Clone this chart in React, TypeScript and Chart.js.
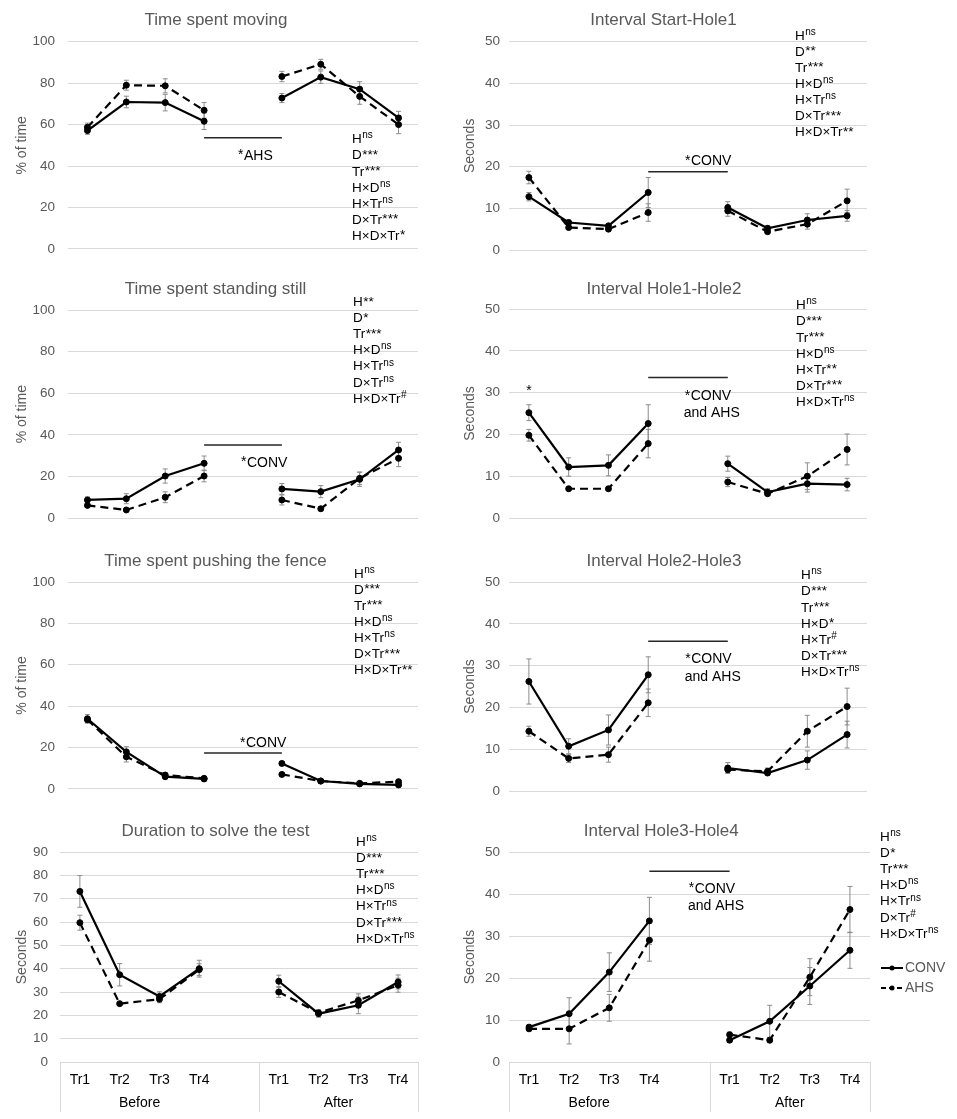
import React, { useEffect, useRef } from "react";
import { Chart, registerables } from "chart.js";

Chart.register(...registerables);

// ---------- DATA ----------
const categories = ["Tr1", "Tr2", "Tr3", "Tr4", "", "Tr1", "Tr2", "Tr3", "Tr4"];
const groupLabels = ["Before", "After"];
const seriesNames = ["CONV", "AHS"];

// Time spent moving (% of time)
const movingConv = [57.1, 70.9, 70.6, 61.6, null, 72.8, 82.9, 77.1, 63.2];
const movingConvErr = [1.8, 2.8, 4.0, 4.0, null, 2.2, 3.0, 3.6, 3.2];
const movingAhs = [58.7, 79.0, 78.7, 66.9, null, 83.2, 89.1, 73.6, 60.0];
const movingAhsErr = [2.0, 2.4, 3.4, 3.8, null, 2.5, 2.4, 3.8, 4.4];
const movingStats = [["H", "ns"], ["D", "***"], ["Tr", "***"], ["H×D", "ns"], ["H×Tr", "ns"], ["D×Tr", "***"], ["H×D×Tr", "*"]];
const movingSigValue = 53.6;
const movingSigText = [["*", "AHS"]];

// Interval Start-Hole1 (seconds)
const startConv = [12.8, 6.6, 5.8, 13.8, null, 10.2, 5.2, 7.2, 8.2];
const startConvErr = [1.0, 0.6, 0.5, 3.6, null, 1.4, 0.6, 1.5, 1.3];
const startAhs = [17.4, 5.4, 5.0, 9.0, null, 9.4, 4.4, 6.2, 11.8];
const startAhsErr = [1.5, 0.5, 0.5, 2.1, null, 1.3, 0.5, 1.2, 2.8];
const startStats = [["H", "ns"], ["D", "**"], ["Tr", "***"], ["H×D", "ns"], ["H×Tr", "ns"], ["D×Tr", "***"], ["H×D×Tr", "**"]];
const startSigValue = 18.8;
const startSigText = [["*", "CONV"]];

// Time spent standing still (% of time)
const stillConv = [8.8, 9.4, 20.3, 26.4, null, 14.1, 12.8, 18.7, 32.8];
const stillConvErr = [1.5, 2.4, 3.4, 3.5, null, 2.6, 2.9, 3.4, 3.7];
const stillAhs = [6.2, 4.0, 10.1, 20.3, null, 8.8, 4.6, 19.2, 28.8];
const stillAhsErr = [1.0, 0.8, 2.6, 2.8, null, 2.4, 1.0, 3.0, 4.0];
const stillStats = [["H", "**"], ["D", "*"], ["Tr", "***"], ["H×D", "ns"], ["H×Tr", "ns"], ["D×Tr", "ns"], ["H×D×Tr", "#"]];
const stillSigValue = 35.2;
const stillSigText = [["*", "CONV"]];

// Interval Hole1-Hole2 (seconds)
const h12Conv = [25.2, 12.2, 12.6, 22.6, null, 13.0, 6.2, 8.2, 8.0];
const h12ConvErr = [1.9, 2.2, 2.5, 4.5, null, 1.8, 0.8, 2.0, 1.5];
const h12Ahs = [19.8, 7.0, 7.0, 17.8, null, 8.6, 5.8, 10.0, 16.4];
const h12AhsErr = [1.4, 0.3, 0.3, 3.4, null, 1.1, 0.4, 3.2, 3.7];
const h12Stats = [["H", "ns"], ["D", "***"], ["Tr", "***"], ["H×D", "ns"], ["H×Tr", "**"], ["D×Tr", "***"], ["H×D×Tr", "ns"]];
const h12SigValue = 33.6;
const h12SigText = [["*", "CONV"], ["", "and AHS"]];

// Time spent pushing the fence (% of time)
const pushConv = [33.9, 17.9, 5.9, 4.8, null, 12.3, 3.8, 2.4, 1.9];
const pushConvErr = [2.0, 2.5, 1.0, 1.0, null, 1.0, 0.8, 0.6, 0.6];
const pushAhs = [33.4, 15.5, 6.7, 5.1, null, 7.0, 3.8, 2.7, 3.5];
const pushAhsErr = [1.5, 2.5, 1.0, 0.8, null, 0.8, 0.6, 0.6, 0.8];
const pushStats = [["H", "ns"], ["D", "***"], ["Tr", "***"], ["H×D", "ns"], ["H×Tr", "ns"], ["D×Tr", "***"], ["H×D×Tr", "**"]];
const pushSigValue = 17.4;
const pushSigText = [["*", "CONV"]];

// Interval Hole2-Hole3 (seconds)
const h23Conv = [26.2, 10.7, 14.6, 27.8, null, 5.5, 4.3, 7.4, 13.5];
const h23ConvErr = [5.4, 1.8, 3.6, 4.3, null, 1.3, 0.6, 2.2, 3.2];
const h23Ahs = [14.3, 7.8, 8.7, 21.1, null, 5.1, 4.7, 14.3, 20.2];
const h23AhsErr = [1.2, 1.0, 1.8, 3.3, null, 0.6, 0.8, 3.8, 4.4];
const h23Stats = [["H", "ns"], ["D", "***"], ["Tr", "***"], ["H×D", "*"], ["H×Tr", "#"], ["D×Tr", "***"], ["H×D×Tr", "ns"]];
const h23SigValue = 35.8;
const h23SigText = [["*", "CONV"], ["", "and AHS"]];

// Duration to solve the test (seconds)
const durConv = [73.1, 37.4, 28.1, 40.0, null, 34.6, 20.7, 24.3, 34.3];
const durConvErr = [6.8, 4.8, 2.0, 3.6, null, 2.6, 1.5, 3.6, 3.0];
const durAhs = [59.7, 25.0, 26.9, 39.6, null, 30.0, 21.1, 26.4, 32.9];
const durAhsErr = [3.2, 0.6, 1.5, 2.5, null, 2.3, 1.3, 2.8, 3.0];
const durStats = [["H", "ns"], ["D", "***"], ["Tr", "***"], ["H×D", "ns"], ["H×Tr", "ns"], ["D×Tr", "***"], ["H×D×Tr", "ns"]];

// Interval Hole3-Hole4 (seconds)
const h34Conv = [8.3, 11.5, 21.4, 33.6, null, 5.2, 9.7, 18.1, 26.6];
const h34ConvErr = [0.5, 3.8, 4.6, 5.6, null, 0.5, 3.8, 4.4, 4.3];
const h34Ahs = [7.9, 7.9, 12.9, 29.0, null, 6.5, 5.2, 20.2, 36.3];
const h34AhsErr = [0.5, 3.6, 3.2, 5.0, null, 0.6, 0.6, 4.4, 5.5];
const h34Stats = [["H", "ns"], ["D", "*"], ["Tr", "***"], ["H×D", "ns"], ["H×Tr", "ns"], ["D×Tr", "#"], ["H×D×Tr", "ns"]];
const h34SigValue = 45.4;
const h34SigText = [["*", "CONV"], ["", "and AHS"]];

// ---------- LAYOUT / STYLE ----------
const FONT = '"Liberation Sans", Arial, Helvetica, sans-serif';
const GRAY_TEXT = "#595959";
const GRID = "#d9d9d9";
const ERR = "#8c8c8c";

type Panel = any;

const LEFT_BOX = { x: 0, w: 455 };
const RIGHT_BOX = { x: 455, w: 502 };

const panels: Panel[] = [
  {
    title: "Time spent moving", yTitle: "% of time", yMax: 100, step: 20,
    conv: movingConv, convErr: movingConvErr, ahs: movingAhs, ahsErr: movingAhsErr, stats: movingStats,
    sigValue: movingSigValue, sigText: movingSigText,
    box: { ...LEFT_BOX, y: 0, h: 270 }, area: { left: 68, right: 418, top: 41.7, bottom: 250 },
    yTitleX: 21.7, tickPad: 13, titlePos: { cx: 216, base: 24.5 }, statsPos: { x: 352, base: 143.3 },
    sigPos: [{ x: 238, base: 159.5 }],
  },
  {
    title: "Interval Start-Hole1", yTitle: "Seconds", yMax: 50, step: 10,
    conv: startConv, convErr: startConvErr, ahs: startAhs, ahsErr: startAhsErr, stats: startStats,
    sigValue: startSigValue, sigText: startSigText,
    box: { ...RIGHT_BOX, y: 0, h: 270 }, area: { left: 509, right: 867, top: 41.7, bottom: 250 },
    yTitleX: 470, tickPad: 9, titlePos: { cx: 663.5, base: 25 }, statsPos: { x: 795, base: 39.5 },
    sigPos: [{ x: 685, base: 165 }],
  },
  {
    title: "Time spent standing still", yTitle: "% of time", yMax: 100, step: 20,
    conv: stillConv, convErr: stillConvErr, ahs: stillAhs, ahsErr: stillAhsErr, stats: stillStats,
    sigValue: stillSigValue, sigText: stillSigText,
    box: { ...LEFT_BOX, y: 270, h: 270 }, area: { left: 68, right: 418, top: 310, bottom: 518.3 },
    yTitleX: 21.7, tickPad: 13, titlePos: { cx: 215.5, base: 293.5 }, statsPos: { x: 353, base: 306 },
    sigPos: [{ x: 241, base: 466.7 }],
  },
  {
    title: "Interval Hole1-Hole2", yTitle: "Seconds", yMax: 50, step: 10,
    conv: h12Conv, convErr: h12ConvErr, ahs: h12Ahs, ahsErr: h12AhsErr, stats: h12Stats,
    sigValue: h12SigValue, sigText: h12SigText,
    box: { ...RIGHT_BOX, y: 270, h: 270 }, area: { left: 509, right: 867, top: 309, bottom: 518 },
    yTitleX: 470, tickPad: 9, titlePos: { cx: 664, base: 294 }, statsPos: { x: 796, base: 309.3 },
    sigPos: [{ x: 684.7, base: 400 }, { x: 683.7, base: 416.7 }],
    pointStar: { index: 0, base: 395 },
  },
  {
    title: "Time spent pushing the fence", yTitle: "% of time", yMax: 100, step: 20,
    conv: pushConv, convErr: pushConvErr, ahs: pushAhs, ahsErr: pushAhsErr, stats: pushStats,
    sigValue: pushSigValue, sigText: pushSigText,
    box: { ...LEFT_BOX, y: 540, h: 270 }, area: { left: 68, right: 418, top: 582, bottom: 791 },
    yTitleX: 21.7, tickPad: 13, titlePos: { cx: 215.5, base: 565.7 }, statsPos: { x: 354, base: 577.6 },
    sigPos: [{ x: 240, base: 747.3 }],
  },
  {
    title: "Interval Hole2-Hole3", yTitle: "Seconds", yMax: 50, step: 10,
    conv: h23Conv, convErr: h23ConvErr, ahs: h23Ahs, ahsErr: h23AhsErr, stats: h23Stats,
    sigValue: h23SigValue, sigText: h23SigText,
    box: { ...RIGHT_BOX, y: 540, h: 270 }, area: { left: 509, right: 867, top: 582, bottom: 791 },
    yTitleX: 470, tickPad: 9, titlePos: { cx: 664, base: 566 }, statsPos: { x: 801, base: 579.3 },
    sigPos: [{ x: 685.3, base: 663.3 }, { x: 684.7, base: 680.7 }],
  },
  {
    title: "Duration to solve the test", yTitle: "Seconds", yMax: 90, step: 10,
    conv: durConv, convErr: durConvErr, ahs: durAhs, ahsErr: durAhsErr, stats: durStats,
    box: { ...LEFT_BOX, y: 810, h: 309 }, area: { left: 60, right: 418, top: 852, bottom: 1062 },
    yTitleX: 22, tickPad: 12, titlePos: { cx: 215.5, base: 835.7 }, statsPos: { x: 356, base: 846 },
    xLabels: true,
  },
  {
    title: "Interval Hole3-Hole4", yTitle: "Seconds", yMax: 50, step: 10,
    conv: h34Conv, convErr: h34ConvErr, ahs: h34Ahs, ahsErr: h34AhsErr, stats: h34Stats,
    sigValue: h34SigValue, sigText: h34SigText,
    box: { ...RIGHT_BOX, y: 810, h: 309 }, area: { left: 509, right: 870, top: 852, bottom: 1062 },
    yTitleX: 470, tickPad: 9, titlePos: { cx: 661.3, base: 836 }, statsPos: { x: 880, base: 841 },
    sigPos: [{ x: 688.7, base: 892.7 }, { x: 688, base: 910 }],
    xLabels: true,
    legend: { x1: 881, x2: 903, tx: 905, ys: [968, 988] },
  },
];

function drawRich(ctx: CanvasRenderingContext2D, x: number, y: number, base: string, sup: string, size: number, supFirst = false) {
  const starOnly = /^\*+$/.test(sup);
  const supFont = starOnly ? `${size}px ${FONT}` : `${Math.round(size * 0.74)}px ${FONT}`;
  const supDy = starOnly ? 0.5 : size * 0.36;
  ctx.textAlign = "left";
  ctx.textBaseline = "alphabetic";
  if (supFirst) {
    let cx = x;
    if (sup) {
      ctx.font = supFont;
      ctx.fillText(sup, cx, y - supDy);
      cx += ctx.measureText(sup).width + 0.5;
    }
    ctx.font = `${size}px ${FONT}`;
    ctx.fillText(base, cx, y);
    return;
  }
  ctx.font = `${size}px ${FONT}`;
  ctx.fillText(base, x, y);
  const w = ctx.measureText(base).width;
  if (sup) {
    ctx.font = supFont;
    ctx.fillText(sup, x + w + 0.5, y - supDy);
  }
}

function makeOverlay(p: Panel) {
  const ox = p.box.x;
  const oy = p.box.y;
  return {
    id: "overlay",
    beforeDatasetsDraw(chart: any) {
      const ctx = chart.ctx;
      const xs = chart.scales.x;
      const ys = chart.scales.y;
      ctx.save();
      ctx.strokeStyle = ERR;
      ctx.lineWidth = 1;
      const series = [[p.conv, p.convErr], [p.ahs, p.ahsErr]];
      series.forEach(([vals, errs]: any) => {
        vals.forEach((v: number | null, i: number) => {
          if (v == null || errs[i] == null) return;
          const x = xs.getPixelForValue(i);
          const y1 = ys.getPixelForValue(v + errs[i]);
          const y2 = ys.getPixelForValue(Math.max(0, v - errs[i]));
          ctx.beginPath();
          ctx.moveTo(x, y1);
          ctx.lineTo(x, y2);
          ctx.moveTo(x - 2.5, y1);
          ctx.lineTo(x + 2.5, y1);
          ctx.moveTo(x - 2.5, y2);
          ctx.lineTo(x + 2.5, y2);
          ctx.stroke();
        });
      });
      ctx.restore();
    },
    afterDraw(chart: any) {
      const ctx = chart.ctx;
      const xs = chart.scales.x;
      const ys = chart.scales.y;
      const area = chart.chartArea;
      ctx.save();
      // title
      ctx.fillStyle = GRAY_TEXT;
      ctx.font = `17px ${FONT}`;
      ctx.textAlign = "center";
      ctx.textBaseline = "alphabetic";
      ctx.fillText(p.title, p.titlePos.cx - ox, p.titlePos.base - oy);

      // statistics
      ctx.fillStyle = "#000";
      p.stats.forEach((s: string[], k: number) => {
        drawRich(ctx, p.statsPos.x - ox, p.statsPos.base - oy + k * 16.1, s[0], s[1], 13.5);
      });

      // significance line and label
      if (p.sigValue != null) {
        const y = ys.getPixelForValue(p.sigValue);
        ctx.strokeStyle = "#262626";
        ctx.lineWidth = 1.5;
        ctx.beginPath();
        ctx.moveTo(xs.getPixelForValue(3), y);
        ctx.lineTo(xs.getPixelForValue(5), y);
        ctx.stroke();
        ctx.fillStyle = "#000";
        p.sigText.forEach((t: string[], k: number) => {
          drawRich(ctx, p.sigPos[k].x - ox, p.sigPos[k].base - oy, t[1], t[0], 14, true);
        });
      }
      if (p.pointStar) {
        ctx.fillStyle = "#000";
        ctx.font = `14px ${FONT}`;
        ctx.textAlign = "center";
        ctx.fillText("*", xs.getPixelForValue(p.pointStar.index), p.pointStar.base - oy);
      }

      // multi-level category axis
      if (p.xLabels) {
        ctx.strokeStyle = GRID;
        ctx.lineWidth = 1;
        const slot = (area.right - area.left) / categories.length;
        const sepX = area.left + 5 * slot;
        [area.left, sepX, area.right].forEach((x) => {
          const xx = Math.round(x) + 0.5;
          ctx.beginPath();
          ctx.moveTo(xx, area.bottom);
          ctx.lineTo(xx, area.bottom + 50);
          ctx.stroke();
        });
        ctx.fillStyle = "#000";
        ctx.font = `14px ${FONT}`;
        ctx.textAlign = "center";
        ctx.textBaseline = "alphabetic";
        categories.forEach((c, i) => {
          if (!c) return;
          ctx.fillText(c, xs.getPixelForValue(i), area.bottom + 22.3);
        });
        const bx = (xs.getPixelForValue(0) + xs.getPixelForValue(3)) / 2;
        const ax = (xs.getPixelForValue(5) + xs.getPixelForValue(8)) / 2;
        ctx.fillText(groupLabels[0], bx, area.bottom + 44.7);
        ctx.fillText(groupLabels[1], ax, area.bottom + 44.7);
      }

      // legend
      if (p.legend) {
        const L = p.legend;
        seriesNames.forEach((name, k) => {
          const y = L.ys[k] - oy;
          ctx.strokeStyle = "#000";
          ctx.lineWidth = 2;
          ctx.setLineDash(k === 0 ? [] : [5, 3]);
          ctx.beginPath();
          ctx.moveTo(L.x1 - ox, y);
          ctx.lineTo(L.x2 - ox, y);
          ctx.stroke();
          ctx.setLineDash([]);
          ctx.fillStyle = "#000";
          ctx.beginPath();
          ctx.arc((L.x1 + L.x2) / 2 - ox, y, 2.5, 0, Math.PI * 2);
          ctx.fill();
          ctx.fillStyle = GRAY_TEXT;
          ctx.font = `14px ${FONT}`;
          ctx.textAlign = "left";
          ctx.textBaseline = "middle";
          ctx.fillText(name, L.tx - ox, y + 0.5);
        });
      }
      ctx.restore();
    },
  };
}

function buildConfig(p: Panel): any {
  const yWidth = p.area.left - p.box.x;
  const titleLH = 14 * 1.2;
  return {
    type: "line",
    data: {
      labels: categories,
      datasets: [
        {
          label: seriesNames[0], data: p.conv, borderColor: "#000", backgroundColor: "#000",
          borderWidth: 2.2, pointRadius: 3, pointBackgroundColor: "#000", pointBorderColor: "#000",
          pointBorderWidth: 1, tension: 0, spanGaps: false,
        },
        {
          label: seriesNames[1], data: p.ahs, borderColor: "#000", backgroundColor: "#000",
          borderWidth: 2.2, borderDash: [8, 5], pointRadius: 3, pointBackgroundColor: "#000",
          pointBorderColor: "#000", pointBorderWidth: 1, tension: 0, spanGaps: false,
        },
      ],
    },
    options: {
      responsive: false,
      animation: false,
      layout: {
        padding: {
          left: 0,
          top: p.area.top - p.box.y,
          right: p.box.x + p.box.w - p.area.right,
          bottom: p.box.y + p.box.h - p.area.bottom,
        },
      },
      plugins: { legend: { display: false }, title: { display: false }, tooltip: { enabled: false } },
      scales: {
        x: { type: "category", display: false, offset: true },
        y: {
          min: 0,
          max: p.yMax,
          ticks: { stepSize: p.step, color: GRAY_TEXT, font: { size: 13.5, family: FONT }, padding: p.tickPad },
          grid: { color: GRID, lineWidth: 1, drawTicks: false },
          border: { display: false },
          title: {
            display: true, text: p.yTitle, color: GRAY_TEXT, font: { size: 14, family: FONT },
            padding: { top: p.yTitleX - p.box.x - titleLH / 2, bottom: 0 },
          },
          afterFit: (s: any) => { s.width = yWidth; },
        },
      },
    },
    plugins: [makeOverlay(p)],
  };
}

function PanelChart({ p }: { p: Panel }) {
  const ref = useRef<HTMLCanvasElement | null>(null);
  useEffect(() => {
    if (!ref.current) return;
    const chart = new Chart(ref.current, buildConfig(p));
    return () => chart.destroy();
  }, [p]);
  return (
    <canvas
      ref={ref}
      width={p.box.w}
      height={p.box.h}
      style={{ position: "absolute", left: p.box.x, top: p.box.y, width: p.box.w, height: p.box.h }}
    />
  );
}

export default function App() {
  return (
    <div style={{ position: "absolute", left: 0, top: 0, width: 957, height: 1119, background: "#fff", overflow: "hidden" }}>
      {panels.map((p, i) => (
        <PanelChart key={i} p={p} />
      ))}
    </div>
  );
}
